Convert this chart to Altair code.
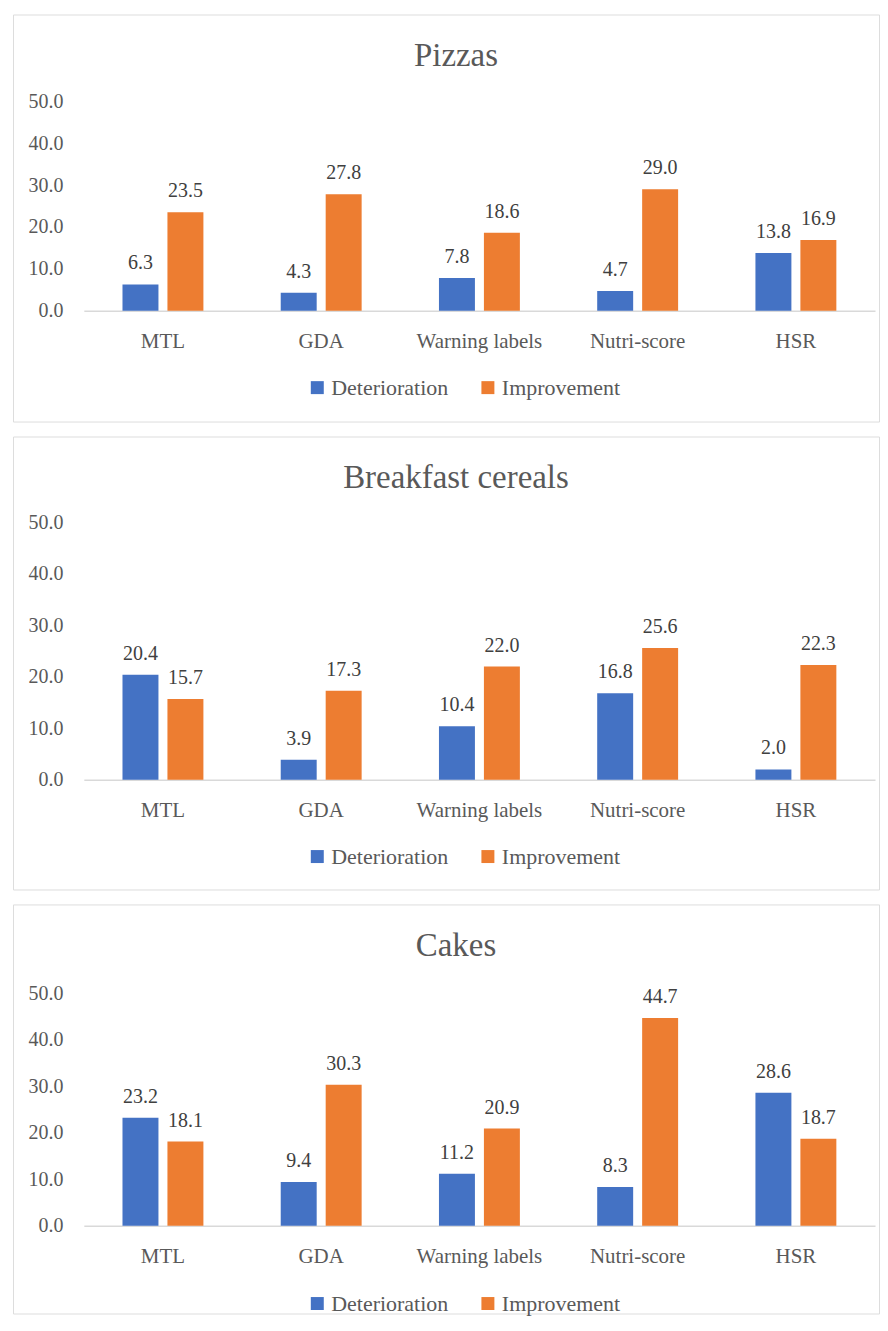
import altair as alt
import pandas as pd

categories = ["MTL", "GDA", "Warning labels", "Nutri-score", "HSR"]
series = ["Deterioration", "Improvement"]
colors = ["#4472C4", "#ED7D31"]

pizzas_det = [6.3, 4.3, 7.8, 4.7, 13.8]
pizzas_imp = [23.5, 27.8, 18.6, 29.0, 16.9]
cereals_det = [20.4, 3.9, 10.4, 16.8, 2.0]
cereals_imp = [15.7, 17.3, 22.0, 25.6, 22.3]
cakes_det = [23.2, 9.4, 11.2, 8.3, 28.6]
cakes_imp = [18.1, 30.3, 20.9, 44.7, 18.7]
y_ticks = [0, 10, 20, 30, 40, 50]

FONT = "Liberation Serif"
GRAY = "#595959"
W = 868


def panel(title, det, imp, H, y0, y50, legend_y):
    rows = []
    for c, d, i in zip(categories, det, imp):
        rows.append({"category": c, "series": series[0], "value": d})
        rows.append({"category": c, "series": series[1], "value": i})
    df = pd.DataFrame(rows)
    base = alt.Chart(df).encode(
        x=alt.X(
            "category:N",
            sort=categories,
            scale=alt.Scale(range=[71, 864], paddingInner=0, paddingOuter=0),
            axis=alt.Axis(
                title=None, offset=-(H - y0), domainColor="#d9d9d9", domainWidth=1.5,
                ticks=False, tickSize=0, labelPadding=20, labelFont=FONT,
                labelFontSize=21, labelColor=GRAY, labelAngle=0, grid=False,
            ),
        ),
        xOffset=alt.XOffset(
            "series:N", sort=series,
            scale=alt.Scale(paddingInner=0.2, paddingOuter=0.86),
        ),
        y=alt.Y(
            "value:Q",
            scale=alt.Scale(domain=[0, 50], range=[y0, y50]),
            axis=alt.Axis(
                title=None, values=y_ticks, format=".1f", offset=-54, labelPadding=4,
                ticks=False, tickSize=0, domain=False, grid=False, labelFont=FONT,
                labelFontSize=20, labelColor=GRAY, labelBaseline="middle",
            ),
        ),
    )
    bars = base.mark_bar().encode(
        color=alt.Color(
            "series:N", sort=series,
            scale=alt.Scale(domain=series, range=colors),
            legend=alt.Legend(
                orient="none", legendX=294, legendY=legend_y, direction="horizontal",
                title=None, symbolType="square", symbolSize=169, symbolStrokeWidth=0,
                labelFont=FONT, labelFontSize=22, labelColor=GRAY, labelOffset=3,
                columnPadding=28, padding=0,
            ),
        )
    )
    labels = base.mark_text(
        baseline="alphabetic", dy=-15, font=FONT, fontSize=20, color="#404040"
    ).encode(text=alt.Text("value:Q", format=".1f"))
    heading = alt.Chart(pd.DataFrame({"t": [title]})).mark_text(
        baseline="alphabetic", font=FONT, fontSize=33, color=GRAY
    ).encode(text="t:N", x=alt.value(444), y=alt.value(52))
    return alt.layer(bars, labels, heading).properties(width=W, height=H)


p1 = panel("Pizzas", pizzas_det, pizzas_imp, 408, 297, 87, 363)
p2 = panel("Breakfast cereals", cereals_det, cereals_imp, 454, 344, 86, 410)
p3 = panel("Cakes", cakes_det, cakes_imp, 410, 322, 89, 389)

chart = (
    alt.vconcat(p1, p2, p3, spacing=15, bounds="flush")
    .resolve_scale(color="independent")
    .properties(padding={"left": 4, "top": 4, "right": 0, "bottom": 0})
    .configure_view(stroke="#d9d9d9", strokeWidth=1.5)
    .configure_axis(labelFont=FONT)
    .configure_legend(labelFont=FONT)
    .configure_text(font=FONT)
    .configure(background="white")
)

chart.save("out.html", embed_options={"renderer": "svg", "actions": False})
